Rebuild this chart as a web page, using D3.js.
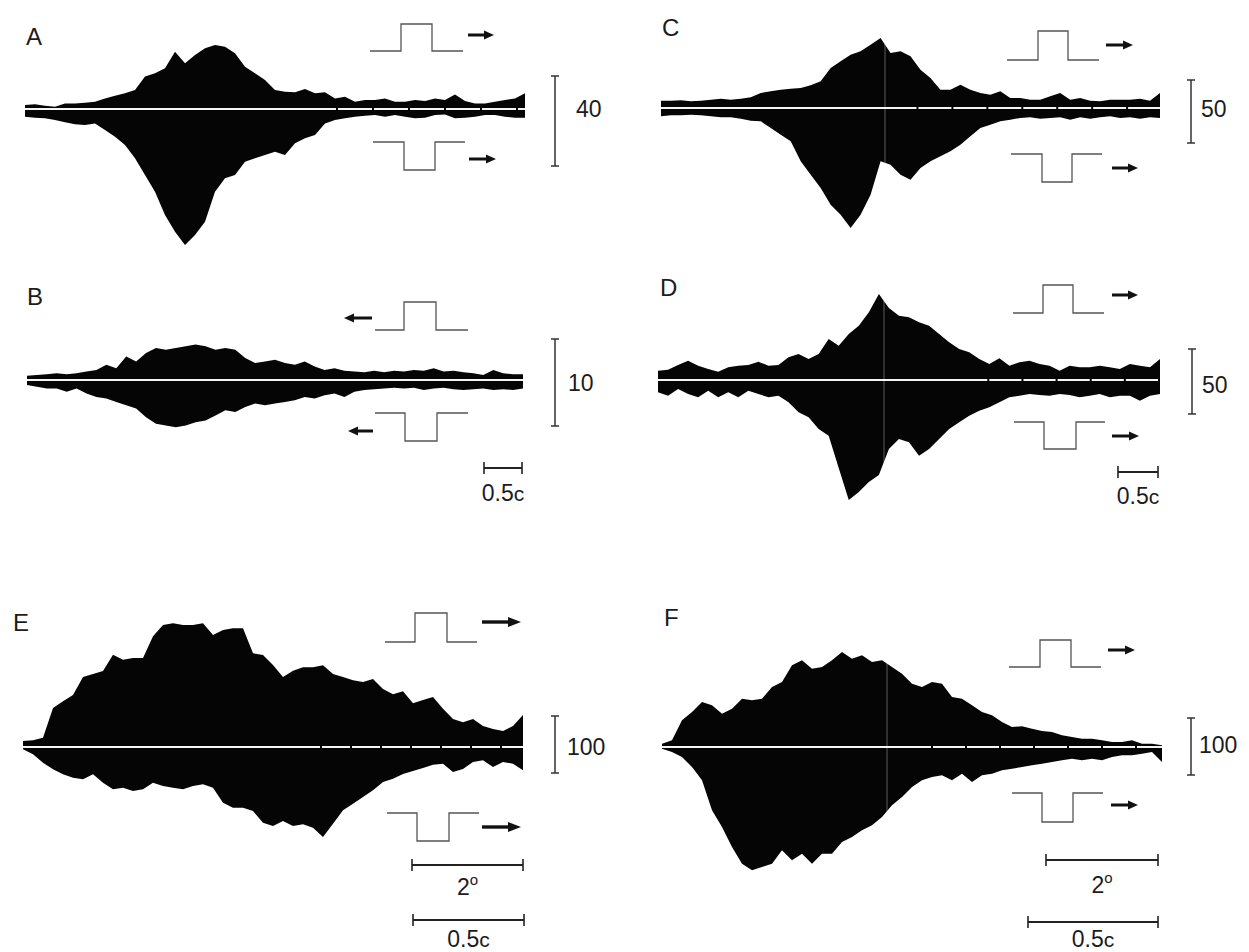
<!DOCTYPE html>
<html><head><meta charset="utf-8">
<script src="https://cdn.jsdelivr.net/npm/d3@7"></script>
<style>html,body{margin:0;padding:0;background:#fff;} svg{display:block;}</style>
</head><body>
<svg id="chart" width="1249" height="952"></svg>
<script>
// ---------------- DATA ----------------
const panelLabels = ["A", "B", "C", "D", "E", "F"];
const scaleBarValues = [40, 10, 50, 50, 100, 100];   // spikes/s scale bars
const timeBarLabels = { B: ["0.5c"], D: ["0.5c"], E: ["2°", "0.5c"], F: ["2°", "0.5c"] };

// response envelopes (spikes/s), upward = bright-bar response, downward = dark-bar response
const upA = [1.8,2.1,1.5,1.0,2.5,2.5,2.8,3.2,4.7,5.9,7.0,8.4,14.4,15.9,18.1,25.5,20.3,24.0,27.0,28.4,27.7,24.8,18.8,15.9,12.9,8.4,7.7,7.4,8.9,7.0,7.4,4.7,5.5,3.2,4.0,4.0,4.7,3.2,3.2,4.0,3.6,4.7,4.0,6.5,3.6,2.5,2.5,3.2,4.0,4.7,7.0];
const downA = [3.4,3.9,4.1,4.9,5.9,6.8,7.1,6.4,9.3,12.3,16.0,21.9,29.3,36.8,47.1,54.5,60.4,56.0,50.1,36.8,30.8,29.3,23.4,21.9,20.4,19.0,20.4,15.2,13.0,11.6,6.4,4.9,4.1,3.4,3.0,2.7,3.4,2.7,3.4,4.1,3.9,2.7,2.4,4.1,3.9,3.4,2.7,2.7,3.4,3.9,3.9];

const upB = [0.50,0.58,0.66,0.78,0.66,0.78,0.97,1.16,1.74,1.36,2.71,2.13,3.10,3.69,3.49,3.69,3.87,4.07,3.87,3.49,3.69,3.49,2.52,1.94,2.13,2.33,1.94,1.74,2.13,1.55,1.16,1.36,1.05,0.97,0.90,1.05,0.90,1.05,0.97,1.16,1.05,1.36,0.97,1.05,0.90,0.78,0.58,1.16,0.78,0.66,0.66];
const downB = [0.58,0.78,0.97,0.97,1.36,0.97,1.55,1.94,2.13,2.52,2.91,3.29,4.27,5.03,5.23,5.43,5.23,4.85,4.65,4.07,3.49,3.69,3.10,2.71,2.91,2.71,2.52,2.33,1.94,2.13,1.74,1.55,1.94,1.36,1.16,1.05,0.97,0.90,0.97,0.90,1.16,0.97,0.90,1.05,1.16,1.05,0.97,1.16,1.05,1.16,0.97];

const upC = [5.8,5.8,6.1,5.3,5.8,6.6,7.4,6.6,7.4,8.5,11.9,13.3,14.5,15.3,15.9,18.0,21.2,31.7,37.1,42.3,45.0,50.2,55.6,43.7,45.0,41.0,30.4,23.8,14.5,14.5,18.5,14.5,11.9,10.6,13.3,7.9,7.9,6.6,6.6,9.3,11.9,6.6,7.9,5.8,5.3,6.6,6.6,6.6,7.4,5.8,11.9];
const downC = [6.6,5.8,5.8,5.3,5.8,6.6,7.4,7.4,8.5,10.1,10.6,15.9,21.2,26.4,42.3,52.9,63.5,76.7,84.7,95.2,84.7,68.8,42.3,45.0,52.9,56.9,47.6,42.3,38.3,34.4,29.1,22.5,15.9,13.3,10.6,9.3,7.9,7.4,8.5,7.9,7.4,9.3,7.4,8.5,7.4,6.6,7.9,7.4,8.5,7.4,7.9];

const upD = [7.2,7.9,11.5,14.8,11.0,8.5,6.4,9.8,11.0,11.5,14.1,11.0,11.5,17.5,20.0,16.2,20.0,31.5,26.4,35.4,41.8,52.1,66.2,55.4,49.5,48.2,44.4,41.8,35.4,29.0,23.8,21.3,16.2,12.3,16.7,11.0,13.6,14.8,12.3,11.0,7.2,11.0,9.8,9.8,11.0,9.8,8.5,12.3,11.0,9.8,16.2];
const downD = [9.5,12.1,6.9,10.8,13.3,8.2,13.3,9.5,13.3,8.2,10.8,13.3,12.1,17.2,24.8,28.7,37.7,42.8,67.7,92.3,86.2,78.5,73.1,53.1,45.4,47.9,58.2,53.1,45.4,37.7,32.5,27.5,23.6,21.0,17.2,13.3,12.1,10.8,11.5,12.1,10.8,11.5,13.3,12.1,10.8,13.3,12.1,12.1,15.9,12.1,10.8];

const upE = [10.5,11.8,16.3,68.4,80.2,91.2,122.8,128.1,133.3,161.9,153.2,156.1,156.1,194.2,214.0,217.0,214.0,214.0,217.0,196.5,205.3,208.2,208.2,164.4,161.4,143.9,122.8,133.9,139.8,139.8,143.3,128.1,122.8,117.0,114.0,119.3,101.8,92.5,97.7,76.7,82.5,87.7,67.2,49.1,43.3,49.1,36.8,31.6,28.1,36.8,56.1];
const downE = [4.0,12.8,27.5,39.1,47.9,53.9,56.7,47.9,62.6,74.2,71.4,77.2,74.2,62.6,68.4,71.4,74.2,68.4,65.4,71.4,97.7,106.5,106.5,112.3,132.8,138.6,129.8,138.6,135.6,141.6,157.9,134.6,111.1,99.5,87.7,76.0,61.4,55.6,47.4,42.1,36.8,31.1,29.3,43.9,38.6,26.3,23.3,35.1,26.3,29.3,40.9];

const upF = [5.8,11.8,46.8,61.4,78.9,73.2,58.4,67.2,84.7,81.9,84.7,105.3,114.0,143.3,152.1,137.4,140.4,152.1,166.7,154.9,160.9,149.1,152.1,140.4,128.6,111.1,105.3,114.0,111.1,87.7,84.7,73.2,61.4,55.6,43.9,35.1,36.3,32.1,28.1,26.3,20.5,17.5,14.6,14.6,11.8,8.8,8.8,11.8,5.8,5.8,3.0];
const downF = [3.0,8.8,17.5,35.1,58.4,111.1,140.4,175.4,204.7,216.3,210.5,204.7,181.2,198.8,187.2,204.7,187.2,187.2,166.7,157.9,146.1,137.4,122.8,102.3,87.7,70.2,58.4,52.6,49.6,58.4,46.8,61.4,49.6,46.8,40.9,38.1,35.1,32.1,29.3,26.3,23.3,20.5,23.3,20.5,23.3,17.5,14.6,14.6,11.8,8.8,26.3];

const upSeries = { A: upA, B: upB, C: upC, D: upD, E: upE, F: upF };
const downSeries = { A: downA, B: downB, C: downC, D: downD, E: downE, F: downF };

// ---------------- LAYOUT ----------------
const layout = {
  A: { x0: 25, x1: 525, base: 109, bar: { x: 555, top: 76, px: 90 }, lab: [26, 45], num: [576, 117],
       pu: { xs: [370, 401, 432, 463], b: 51, t: 24 }, pd: { xs: [373, 404, 435, 465], b: 142, t: 170 },
       au: { x0: 468, x1: 494, y: 35, dir: 1 }, ad: { x0: 469, x1: 496, y: 159, dir: 1 }, tb: [],
       notch: { start: 31.2, step: 3.6 } },
  B: { x0: 27, x1: 523, base: 380, bar: { x: 555, top: 339, px: 87 }, lab: [27, 305], num: [568, 391],
       pu: { xs: [375, 404, 436, 468], b: 330, t: 302 }, pd: { xs: [375, 405, 437, 468], b: 413, t: 441 },
       au: { x0: 344, x1: 372, y: 318, dir: -1 }, ad: { x0: 348, x1: 373, y: 431, dir: -1 },
       tb: [{ x0: 484, x1: 522, y: 468, ly: 501 }] },
  C: { x0: 661, x1: 1160, base: 108, bar: { x: 1191, top: 80, px: 63 }, lab: [662, 36], num: [1201, 117],
       pu: { xs: [1007, 1038, 1068, 1099], b: 60, t: 31 }, pd: { xs: [1011, 1042, 1072, 1102], b: 154, t: 182 },
       au: { x0: 1106, x1: 1133, y: 45, dir: 1 }, ad: { x0: 1112, x1: 1138, y: 168, dir: 1 }, tb: [], vline: 885,
       notch: { start: 25.7, step: 3.5 } },
  D: { x0: 658, x1: 1160, base: 380, bar: { x: 1192, top: 349, px: 65 }, lab: [660, 296], num: [1202, 393],
       pu: { xs: [1013, 1043, 1073, 1104], b: 313, t: 285 }, pd: { xs: [1014, 1044, 1076, 1105], b: 422, t: 449 },
       au: { x0: 1112, x1: 1138, y: 295, dir: 1 }, ad: { x0: 1112, x1: 1139, y: 436, dir: 1 },
       tb: [{ x0: 1118, x1: 1158, y: 472, ly: 504 }], vline: 884, notch: { start: 32.9, step: 3.4 } },
  E: { x0: 23, x1: 523, base: 747, bar: { x: 555, top: 716, px: 57 }, lab: [13, 631], num: [567, 755],
       pu: { xs: [385, 415, 447, 477], b: 642, t: 613 }, pd: { xs: [387, 417, 449, 479], b: 813, t: 841 },
       au: { x0: 482, x1: 521, y: 622, dir: 1, big: true }, ad: { x0: 482, x1: 521, y: 827, dir: 1, big: true },
       tb: [{ x0: 412, x1: 523, y: 865, ly: 895 }, { x0: 413, x1: 524, y: 920, ly: 947 }],
       notch: { start: 29.8, step: 3.0 } },
  F: { x0: 662, x1: 1162, base: 747, bar: { x: 1191, top: 718, px: 57 }, lab: [664, 626], num: [1199, 753],
       pu: { xs: [1009, 1040, 1071, 1101], b: 667, t: 640 }, pd: { xs: [1012, 1042, 1073, 1103], b: 793, t: 822 },
       au: { x0: 1108, x1: 1135, y: 650, dir: 1 }, ad: { x0: 1111, x1: 1138, y: 805, dir: 1 },
       tb: [{ x0: 1046, x1: 1158, y: 860, ly: 893 }, { x0: 1028, x1: 1158, y: 922, ly: 947 }], vline: 887,
       notch: { start: 27, step: 3.4 } }
};

const FONT = "'Liberation Sans', Arial, Helvetica, sans-serif";
const INK = "#1c1c1c";
const svg = d3.select("#chart");
svg.append("rect").attr("width", 1249).attr("height", 952).attr("fill", "#fff");

function drawPulse(g, p) {
  const [a, b, c, d] = p.xs;
  const path = `M${a},${p.b}H${b}V${p.t}H${c}V${p.b}H${d}`;
  g.append("path").attr("d", path).attr("fill", "none").attr("stroke", "#555").attr("stroke-width", 1.3);
}
function drawArrow(g, a) {
  const hl = a.big ? 13 : 10, hw = a.big ? 5 : 4.5, sw = a.big ? 3.4 : 3;
  const tip = a.dir > 0 ? a.x1 : a.x0, tail = a.dir > 0 ? a.x0 : a.x1;
  const hb = tip - a.dir * hl;
  g.append("line").attr("x1", tail).attr("x2", hb + a.dir * 1).attr("y1", a.y).attr("y2", a.y)
    .attr("stroke", "#111").attr("stroke-width", sw);
  g.append("path").attr("d", `M${tip},${a.y}L${hb},${a.y - hw}L${hb},${a.y + hw}Z`).attr("fill", "#111");
}

panelLabels.forEach((key, pi) => {
  const L = layout[key];
  const g = svg.append("g");
  const up = upSeries[key], dn = downSeries[key];
  const x = d3.scaleLinear().domain([0, up.length - 1]).range([L.x0, L.x1]);
  const y = d3.scaleLinear().domain([0, scaleBarValues[pi]]).range([0, L.bar.px]);

  const areaUp = d3.area().x((d, i) => x(i)).y0(L.base).y1(d => L.base - y(d)).curve(d3.curveLinear);
  const areaDn = d3.area().x((d, i) => x(i)).y0(L.base).y1(d => L.base + y(d)).curve(d3.curveLinear);
  g.append("path").datum(up).attr("d", areaUp).attr("fill", "#050505");
  g.append("path").datum(dn).attr("d", areaDn).attr("fill", "#050505");
  // white zero line
  g.append("line").attr("x1", L.x0).attr("x2", L.x1).attr("y1", L.base).attr("y2", L.base)
    .attr("stroke", "#f4f4f4").attr("stroke-width", 2);
  // small marker breaks on the zero line
  if (L.notch) {
    d3.range(L.notch.start, up.length - 1, L.notch.step).forEach(b => {
      g.append("line").attr("x1", x(b)).attr("x2", x(b)).attr("y1", L.base - 1.5).attr("y2", L.base + 1.5)
        .attr("stroke", "#050505").attr("stroke-width", 2);
    });
  }
  if (L.vline) {
    g.append("line").attr("x1", L.vline).attr("x2", L.vline).attr("y1", L.base - 120).attr("y2", L.base + 140)
      .attr("stroke", "#fff").attr("stroke-opacity", 0.35).attr("stroke-width", 1);
  }

  // panel letter
  g.append("text").attr("x", L.lab[0]).attr("y", L.lab[1]).text(key)
    .attr("font-family", FONT).attr("font-size", 24).attr("fill", INK);

  // vertical scale bar
  const by0 = L.bar.top, by1 = L.bar.top + y(scaleBarValues[pi]);
  g.append("line").attr("x1", L.bar.x).attr("x2", L.bar.x).attr("y1", by0).attr("y2", by1)
    .attr("stroke", "#333").attr("stroke-width", 1.5);
  [by0, by1].forEach(yy => g.append("line").attr("x1", L.bar.x - 4).attr("x2", L.bar.x + 4)
    .attr("y1", yy).attr("y2", yy).attr("stroke", "#333").attr("stroke-width", 1.5));
  g.append("text").attr("x", L.num[0]).attr("y", L.num[1]).text(scaleBarValues[pi])
    .attr("font-family", FONT).attr("font-size", 23).attr("fill", INK);

  // stimulus icons
  drawPulse(g, L.pu);
  drawPulse(g, L.pd);
  drawArrow(g, L.au);
  drawArrow(g, L.ad);

  // horizontal time / space bars
  const labs = timeBarLabels[key] || [];
  L.tb.forEach((t, ti) => {
    g.append("line").attr("x1", t.x0).attr("x2", t.x1).attr("y1", t.y).attr("y2", t.y)
      .attr("stroke", "#222").attr("stroke-width", 1.8);
    [t.x0, t.x1].forEach(xx => g.append("line").attr("x1", xx).attr("x2", xx)
      .attr("y1", t.y - 6).attr("y2", t.y + 6).attr("stroke", "#222").attr("stroke-width", 1.6));
    const txt = g.append("text").attr("x", (t.x0 + t.x1) / 2).attr("y", t.ly)
      .attr("text-anchor", "middle").attr("font-family", FONT).attr("font-size", 23).attr("fill", INK);
    const s = labs[ti];
    if (s === "2°") {
      txt.append("tspan").text("2");
      txt.append("tspan").attr("dy", -10).attr("font-size", 15).text("o");
    } else {
      txt.append("tspan").text("0.5");
      txt.append("tspan").attr("font-size", 21).text("c");
    }
  });
});
</script>
</body></html>
